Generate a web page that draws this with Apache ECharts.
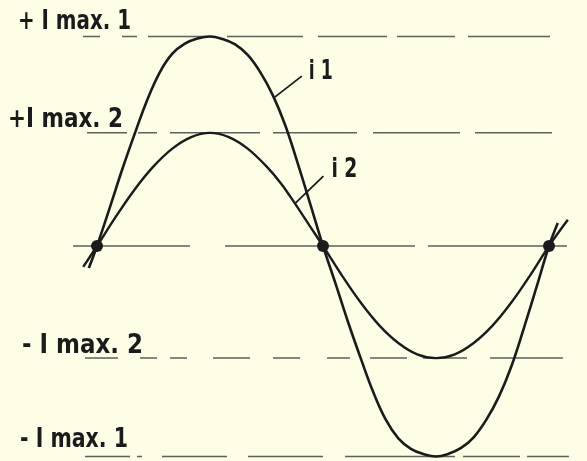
<!DOCTYPE html>
<html>
<head>
<meta charset="utf-8">
<script src="https://cdn.jsdelivr.net/npm/echarts@6/dist/echarts.min.js"></script>
<style>
  html, body { margin: 0; padding: 0; background: #fefde6; }
  #chart { width: 587px; height: 461px; }
</style>
</head>
<body>
<div id="chart"></div>
<script>
// Phase angle in degrees, current in units of I max. 1
const i1Deg = [-6.5, 0, 10, 20, 30, 40, 50, 60, 70, 80, 90, 100, 110, 120, 130, 140, 150, 160, 170, 180,
               190, 200, 210, 220, 230, 240, 250, 260, 270, 280, 290, 300, 310, 320, 330, 340, 350, 360, 367];
const i1Val = [-0.105, 0, 0.18, 0.364, 0.535, 0.697, 0.829, 0.918, 0.966, 0.99, 1.0, 0.988, 0.962, 0.912, 0.83, 0.72, 0.575, 0.392, 0.198, 0,
               -0.18, -0.364, -0.535, -0.697, -0.829, -0.918, -0.968, -0.993, -1.005, -0.992, -0.964, -0.913, -0.83, -0.72, -0.575, -0.392, -0.198, 0, 0.11];

const i2Deg = [-11, 0, 15, 30, 45, 60, 75, 90, 105, 120, 135, 147, 158, 169, 180,
               195, 210, 225, 240, 255, 270, 285, 300, 315, 330, 345, 360, 375];
const i2Val = [-0.1, 0, 0.14, 0.27, 0.38, 0.465, 0.52, 0.54, 0.52, 0.465, 0.38, 0.295, 0.2, 0.1, 0,
               -0.14, -0.27, -0.38, -0.463, -0.517, -0.535, -0.517, -0.463, -0.38, -0.27, -0.14, 0, 0.125];

// zero crossings shared by both currents
const crossDeg = [0, 180, 360];
const crossVal = [0, 0, 0];

// reference levels and their names
const levelNames  = ['+ I max. 1', '+I max. 2', '', '- I max. 2', '- I max. 1'];
const levelValues = [1, 0.54, 0, -0.535, -1.005];
const levelFrom   = [-11.15, -7.96, -19.1, -9.56, -9.56];
const levelTo     = [360.8, 362.4, 374.3, 371.1, 375.9];

const curveNames = ['i 1', 'i 2'];
// sample on each curve where its name's leader line starts
const curveTagIndex = [15, 12];

const ink = '#1b1b1b';
const pairs = (xs, ys) => xs.map((x, k) => [x, ys[k]]);

const chart = echarts.init(document.getElementById('chart'), null, { renderer: 'canvas' });

// hand-ruled dash runs, one pattern per level line
const levelDash = [
  [17, 22, 15, 11, 65, 14, 76, 15, 69, 10, 58, 13, 82, 40],
  [40, 11, 19, 13, 90, 13, 84, 16, 87, 15, 77, 40],
  [117, 35, 190, 13, 139, 40],
  [33, 22, 17, 13, 17, 26, 37, 23, 27, 27, 23, 20, 37, 16, 44, 23, 73, 40],
  [45, 7, 5, 20, 65, 21, 75, 22, 110, 8, 57, 7, 42, 40]
];
const levelSeries = levelValues.map((v, k) => ({
  type: 'line',
  data: [[levelFrom[k], v], [levelTo[k], v]],
  symbol: 'none',
  silent: true,
  z: 1,
  lineStyle: { color: '#444', width: 1.5, opacity: 0.85, type: levelDash[k] }
}));

chart.setOption({
  animation: false,
  backgroundColor: '#fefde6',
  grid: { left: 71.9, top: 15.55, width: 502.2, height: 444.14, containLabel: false },
  xAxis: { type: 'value', min: -20, max: 380, show: false },
  yAxis: { type: 'value', min: -1.02, max: 1.1, show: false },
  series: levelSeries.concat([
    {
      name: 'i1', type: 'line', data: pairs(i1Deg, i1Val), smooth: 0.4,
      showSymbol: false, z: 3, clip: false,
      lineStyle: { color: ink, width: 2.6 }
    },
    {
      name: 'i2', type: 'line', data: pairs(i2Deg, i2Val), smooth: 0.35,
      showSymbol: false, z: 3, clip: false,
      lineStyle: { color: ink, width: 2.4 }
    },
    {
      type: 'scatter', data: pairs(crossDeg, crossVal), symbolSize: 12, z: 4,
      itemStyle: { color: ink, opacity: 1 }
    }
  ])
});

// Lettering: condensed bold, scaled to the widths of the hand-lettered names
const font = 'bold 27px "DejaVu Sans"';
const ctx = document.createElement('canvas').getContext('2d');
ctx.font = font;
const textWidth = t => ctx.measureText(t).width;

const levelLabelLeft   = [18, 8, 0, 22, 20];
const levelLabelWidth  = [113, 115, 0, 121, 108];
const levelLabelRaise  = [14.5, 13, 0, 12, 17];

const graphics = [];
levelNames.forEach((name, k) => {
  if (!name) return;
  const py = chart.convertToPixel({ gridIndex: 0 }, [0, levelValues[k]])[1];
  graphics.push({
    type: 'text',
    x: levelLabelLeft[k], y: py - levelLabelRaise[k],
    scaleX: levelLabelWidth[k] / textWidth(name),
    style: { text: name, font: font, fill: ink, textAlign: 'left', textVerticalAlign: 'middle' }
  });
});

// curve names with leader lines
const tagLeader = [[[2, 2], [29, -19]], [[0, -1], [28, -28]]];
const tagText = [[36, -23, 24], [36, -34, 26]];
const curves = [[i1Deg, i1Val], [i2Deg, i2Val]];
curveNames.forEach((name, k) => {
  const idx = curveTagIndex[k];
  const p = chart.convertToPixel({ gridIndex: 0 }, [curves[k][0][idx], curves[k][1][idx]]);
  const [a, b] = tagLeader[k];
  graphics.push({
    type: 'line',
    shape: { x1: p[0] + a[0], y1: p[1] + a[1], x2: p[0] + b[0], y2: p[1] + b[1] },
    style: { stroke: ink, lineWidth: 1.8 }
  });
  const t = tagText[k];
  graphics.push({
    type: 'text',
    x: p[0] + t[0], y: p[1] + t[1],
    scaleX: t[2] / textWidth(name),
    style: { text: name, font: font, fill: ink, textAlign: 'left', textVerticalAlign: 'middle' }
  });
});

chart.setOption({ graphic: { elements: graphics } });
</script>
</body>
</html>
